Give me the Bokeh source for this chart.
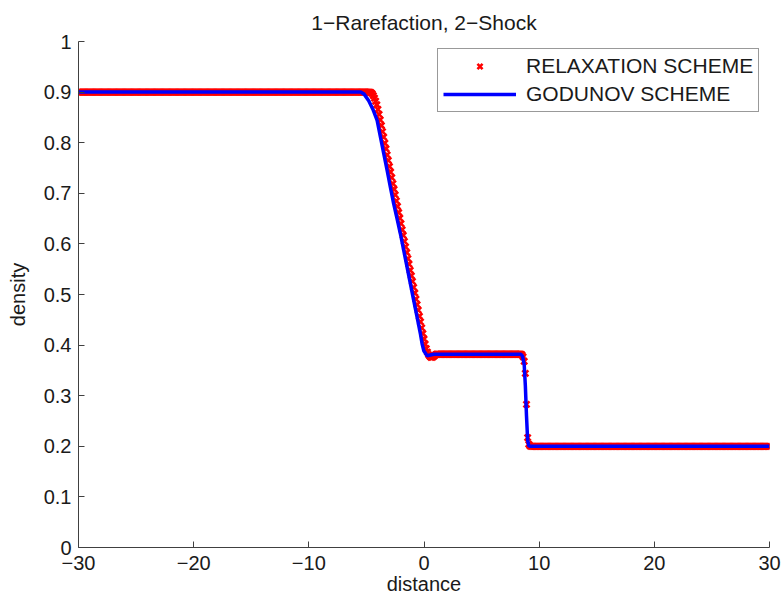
import numpy as np
from bokeh.plotting import figure
from bokeh.models import Range1d, FixedTicker, Legend, LegendItem
from bokeh.embed import file_html
from bokeh.resources import INLINE

# ---- data ---------------------------------------------------------------
# mesh used by the relaxation scheme (cell spacing 0.1 on [-30, 30])
mesh_step = 0.1
mesh_start = -30.0
mesh_end = 30.0

# plateau states (left, middle, right)
relax_left = 0.900
relax_mid = 0.382
relax_right = 0.200

# relaxation scheme through the rarefaction fan, x = -4.7 ... 1.0
fan_start = -4.7
relax_fan = [
    0.900, 0.899, 0.897, 0.893, 0.888, 0.882, 0.875, 0.866, 0.856, 0.845,
    0.834, 0.822, 0.811, 0.799, 0.788, 0.776, 0.765, 0.753, 0.742, 0.731,
    0.719, 0.708, 0.697, 0.685, 0.674, 0.662, 0.651, 0.640, 0.628, 0.617,
    0.605, 0.594, 0.583, 0.571, 0.560, 0.548, 0.537, 0.526, 0.514, 0.503,
    0.491, 0.480, 0.469, 0.457, 0.446, 0.434, 0.423, 0.412, 0.402, 0.393,
    0.386, 0.381, 0.378, 0.376, 0.376, 0.377, 0.379, 0.381,
]

# relaxation scheme across the shock, x = 8.4 ... 9.2
shock_start = 8.4
relax_shock = [0.382, 0.381, 0.377, 0.368, 0.344, 0.283, 0.217, 0.204, 0.201]

# Godunov scheme solution
godunov_x = [-30.0, -5.5, -5.2, -4.8, -4.4, -4.07, -3.78, -3.49, -3.2, -2.92,
             -2.63, -2.34, -2.05, -1.76, -1.47, -1.18, -0.89, -0.6, -0.31,
             -0.17, -0.02, 0.27, 0.84, 8.4, 8.55, 8.7, 8.8, 8.9, 9.0, 9.1,
             9.25, 30.0]
godunov_rho = [0.900, 0.900, 0.896, 0.883, 0.864, 0.844, 0.811, 0.778, 0.745,
               0.712, 0.679, 0.650, 0.620, 0.587, 0.554, 0.521, 0.488, 0.455,
               0.422, 0.403, 0.389, 0.379, 0.382, 0.382, 0.378, 0.362, 0.320,
               0.260, 0.212, 0.201, 0.200, 0.200]

# axis ticks
x_ticks = [-30, -20, -10, 0, 10, 20, 30]
x_tick_labels = ["\u221230", "\u221220", "\u221210", "0", "10", "20", "30"]
y_ticks = [0.0, 0.1, 0.2, 0.3, 0.4, 0.5, 0.6, 0.7, 0.8, 0.9, 1.0]
y_tick_labels = ["0", "0.1", "0.2", "0.3", "0.4", "0.5", "0.6", "0.7", "0.8", "0.9", "1"]

# ---- assemble the relaxation profile on the mesh ---------------------------
n_cells = int(round((mesh_end - mesh_start) / mesh_step)) + 1
relax_x = np.round(mesh_start + mesh_step * np.arange(n_cells), 1)
i_fan = int(round((fan_start - mesh_start) / mesh_step))
i_mid = i_fan + len(relax_fan)
i_shock = int(round((shock_start - mesh_start) / mesh_step))
i_right = i_shock + len(relax_shock)
relax_rho = np.concatenate([
    np.full(i_fan, relax_left),
    relax_fan,
    np.full(i_shock - i_mid, relax_mid),
    relax_shock,
    np.full(n_cells - i_right, relax_right),
])

# ---- figure ---------------------------------------------------------------
FONT = "Liberation Sans"

p = figure(width=782, height=597, output_backend="svg", toolbar_location=None,
           x_range=Range1d(-30, 30), y_range=Range1d(0, 1),
           min_border_left=78, min_border_right=13, min_border_top=41,
           min_border_bottom=50)
p.background_fill_color = "white"
p.border_fill_color = "white"
p.outline_line_color = None
p.grid.visible = False

p.title.text = "1\u2212Rarefaction, 2\u2212Shock"
p.title.align = "center"
p.title.text_font = FONT
p.title.text_font_size = "21px"
p.title.text_font_style = "normal"
p.title.text_color = "#1a1a1a"
p.title.standoff = 16

r_relax = p.scatter(relax_x, relax_rho, marker="x", size=8.5, line_width=2.6,
                    color="#ff0000")
r_god = p.line(godunov_x, godunov_rho, line_width=3.5, color="#0000ff")

for ax, ticks, labels in ((p.xaxis[0], x_ticks, x_tick_labels),
                          (p.yaxis[0], y_ticks, y_tick_labels)):
    ax.ticker = FixedTicker(ticks=ticks)
    ax.major_label_overrides = {t: l for t, l in zip(ticks, labels)}
    ax.minor_tick_line_color = None
    ax.major_tick_in = 6
    ax.major_tick_out = 0
    ax.axis_line_color = "#404040"
    ax.major_tick_line_color = "#404040"
    ax.major_label_text_font = FONT
    ax.major_label_text_font_size = "20px"
    ax.major_label_text_color = "#1a1a1a"
    ax.axis_label_text_font = FONT
    ax.axis_label_text_font_size = "20px"
    ax.axis_label_text_font_style = "normal"
    ax.axis_label_text_color = "#1a1a1a"

p.xaxis.axis_label = "distance"
p.yaxis.axis_label = "density"
p.xaxis.major_label_standoff = 8
p.yaxis.major_label_standoff = 7
p.xaxis.axis_label_standoff = 0
p.yaxis.axis_label_standoff = 12

legend = Legend(items=[LegendItem(label="RELAXATION SCHEME", renderers=[r_relax]),
                       LegendItem(label="GODUNOV SCHEME", renderers=[r_god])],
                location=(359, 435))
legend.label_text_font = FONT
legend.label_text_font_size = "21px"
legend.label_text_color = "#1a1a1a"
legend.border_line_color = "#333333"
legend.border_line_width = 1
legend.background_fill_alpha = 1
legend.glyph_width = 73
legend.glyph_height = 18
legend.label_height = 18
legend.label_standoff = 10
legend.padding = 5
legend.spacing = 4
legend.margin = 0
p.add_layout(legend, "center")

open("out.html", "w").write(file_html(p, INLINE))
